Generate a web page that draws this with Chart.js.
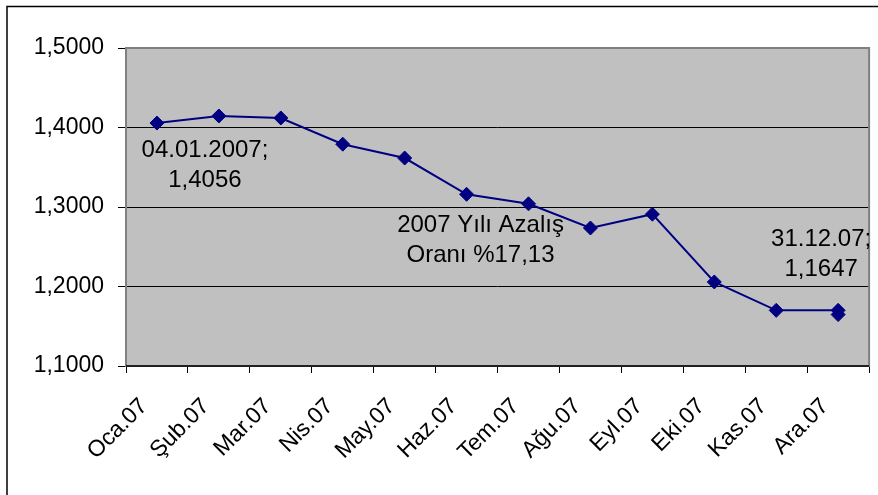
<!DOCTYPE html>
<html>
<head>
<meta charset="utf-8">
<script src="https://cdn.jsdelivr.net/npm/chart.js@4.4.0/dist/chart.umd.min.js"></script>
<style>
  html, body { margin: 0; padding: 0; background: #fff; }
</style>
</head>
<body>
<canvas id="rateChart" width="878" height="495"></canvas>
<script>
const months = ["Oca.07", "Şub.07", "Mar.07", "Nis.07", "May.07", "Haz.07",
  "Tem.07", "Ağu.07", "Eyl.07", "Eki.07", "Kas.07", "Ara.07"];
const pointMonths = ["Oca.07", "Şub.07", "Mar.07", "Nis.07", "May.07", "Haz.07",
  "Tem.07", "Ağu.07", "Eyl.07", "Eki.07", "Kas.07", "Ara.07", "Ara.07"];
const rates = [1.4056, 1.4145, 1.412, 1.379, 1.3616, 1.316, 1.304, 1.2736,
  1.291, 1.2057, 1.170, 1.170, 1.1647];
const yTicks = [1.1, 1.2, 1.3, 1.4, 1.5];

const firstNote = ["04.01.2007;", "1,4056"];
const lastNote = ["31.12.07;", "1,1647"];
const middleNote = ["2007 Yılı Azalış", "Oranı %17,13"];

const FONT = "'Liberation Sans', Arial, sans-serif";

const plotFrame = {
  id: "plotFrame",
  beforeDraw(chart) {
    const { ctx, chartArea: a } = chart;
    ctx.save();
    ctx.fillStyle = "#c0c0c0";
    ctx.fillRect(a.left, a.top, a.right - a.left, a.bottom - a.top);
    // outer frame (only top and left edges show)
    ctx.strokeStyle = "#000";
    ctx.lineWidth = 1.5;
    ctx.beginPath();
    ctx.moveTo(878, 6.5);
    ctx.lineTo(7, 6.5);
    ctx.lineTo(7, 495);
    ctx.stroke();
    ctx.restore();
  },
  beforeDatasetsDraw(chart) {
    const { ctx, chartArea: a } = chart;
    ctx.save();
    ctx.strokeStyle = "#808080";
    ctx.lineWidth = 2;
    ctx.strokeRect(a.left, a.top, a.right - a.left, a.bottom - a.top);
    ctx.strokeStyle = "#000";
    ctx.lineWidth = 1.5;
    ctx.beginPath();
    ctx.moveTo(a.left, a.bottom);
    ctx.lineTo(a.right, a.bottom);
    ctx.stroke();
    ctx.restore();
  },
  afterDatasetsDraw(chart) {
    const { ctx, chartArea: a } = chart;
    const pts = chart.getDatasetMeta(0).data;
    const drawLines = (lines, x, y) => {
      lines.forEach((t, i) => ctx.fillText(t, x, y + i * 30));
    };
    ctx.save();
    ctx.beginPath();
    ctx.rect(a.left, a.top, a.right - a.left, a.bottom - a.top);
    ctx.clip();
    ctx.fillStyle = "#000";
    ctx.font = "24px " + FONT;
    ctx.textAlign = "center";
    ctx.textBaseline = "middle";
    const p0 = pts[0];
    drawLines(firstNote, p0.x + 48, p0.y + 27);
    const pl = pts[pts.length - 1];
    drawLines(lastNote, pl.x - 17, pl.y - 75);
    const pm = pts[6];
    drawLines(middleNote, pm.x - 48, pm.y + 22);
    ctx.restore();
  }
};

new Chart(document.getElementById("rateChart"), {
  type: "line",
  data: {
    labels: months,
    datasets: [{
      data: pointMonths.map((m, i) => ({ x: m, y: rates[i] })),
      borderColor: "#000080",
      backgroundColor: "#000080",
      borderWidth: 2,
      pointStyle: "rectRot",
      pointRadius: 7,
      pointBorderWidth: 1,
      pointBackgroundColor: "#000080",
      tension: 0
    }]
  },
  options: {
    responsive: false,
    animation: false,
    layout: { padding: { top: 48, right: 7, left: 0, bottom: 0 } },
    plugins: { legend: { display: false }, tooltip: { enabled: false } },
    scales: {
      x: {
        type: "category",
        offset: true,
        afterFit(scale) { scale.height = 129; },
        grid: {
          offset: true,
          drawOnChartArea: false,
          color: "#000",
          tickLength: 7
        },
        border: { display: false },
        ticks: {
          color: "#000",
          font: { family: FONT, size: 23 },
          minRotation: 45,
          maxRotation: 45,
          autoSkip: false,
          padding: 20,
          labelOffset: -13
        }
      },
      y: {
        min: 1.1,
        max: 1.5,
        afterFit(scale) { scale.width = 126; },
        afterBuildTicks(scale) { scale.ticks = yTicks.map(v => ({ value: v })); },
        grid: { color: "#000", lineWidth: 1, tickLength: 8 },
        border: { display: false },
        ticks: {
          color: "#000",
          font: { family: FONT, size: 23 },
          padding: 14,
          callback: v => v.toFixed(4).replace(".", ",")
        }
      }
    }
  },
  plugins: [plotFrame]
});
</script>
</body>
</html>
